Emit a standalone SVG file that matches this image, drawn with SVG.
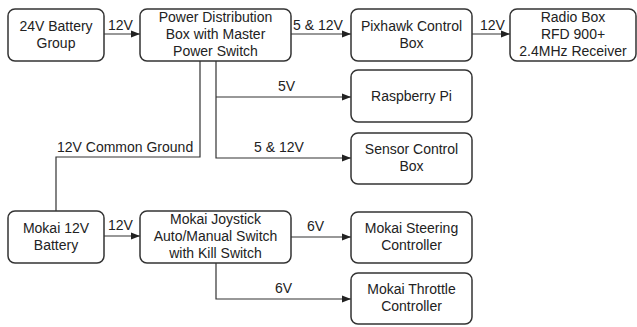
<svg xmlns="http://www.w3.org/2000/svg" width="637" height="327" viewBox="0 0 637 327">
<style>
.box{fill:#fff;stroke:#333;stroke-width:1.5}
text{font-family:"Liberation Sans",Arial,sans-serif;font-size:14px;fill:#222;text-anchor:middle}
.lbl{text-anchor:start}
.c{fill:none;stroke:#333;stroke-width:1.2}
</style>
<defs>
<marker id="ah" markerWidth="10" markerHeight="8" refX="9" refY="4" orient="auto" markerUnits="userSpaceOnUse">
<path d="M0,0.5 L9,4 L0,7.5 Z" fill="#222"/>
</marker>
</defs>
<rect width="637" height="327" fill="#fff"/>
<g id="connectors">
<path class="c" d="M104,34 H140" marker-end="url(#ah)"/>
<path class="c" d="M291,34 H351" marker-end="url(#ah)"/>
<path class="c" d="M472,34 H510" marker-end="url(#ah)"/>
<path class="c" d="M216,61 V158 H351" marker-end="url(#ah)"/>
<path class="c" d="M216,97 H351" marker-end="url(#ah)"/>
<path class="c" d="M200,61 V157 H56 V211"/>
<path class="c" d="M104,236 H140" marker-end="url(#ah)"/>
<path class="c" d="M291,237 H351" marker-end="url(#ah)"/>
<path class="c" d="M216,263 V299 H351" marker-end="url(#ah)"/>
<text class="lbl" x="108" y="30">12V</text>
<text class="lbl" x="293" y="30">5 &amp; 12V</text>
<text class="lbl" x="480" y="30">12V</text>
<text class="lbl" x="278" y="91">5V</text>
<text class="lbl" x="57" y="152">12V Common Ground</text>
<text class="lbl" x="254" y="152">5 &amp; 12V</text>
<text class="lbl" x="108" y="230">12V</text>
<text class="lbl" x="307" y="231">6V</text>
<text class="lbl" x="275" y="293">6V</text>
</g>
<g id="battery24">
<rect class="box" x="8" y="9" width="96" height="52" rx="7"/>
<text x="56" y="31">24V Battery</text><text x="56" y="48">Group</text>
</g>
<g id="powerdist">
<rect class="box" x="140" y="9" width="151" height="52" rx="7"/>
<text x="215.5" y="22">Power Distribution</text><text x="215.5" y="39">Box with Master</text><text x="215.5" y="56">Power Switch</text>
</g>
<g id="pixhawk">
<rect class="box" x="351" y="9" width="121" height="52" rx="7"/>
<text x="411.5" y="31">Pixhawk Control</text><text x="411.5" y="48">Box</text>
</g>
<g id="radio">
<rect class="box" x="510" y="9" width="126" height="52" rx="7"/>
<text x="573" y="22">Radio Box</text><text x="573" y="39">RFD 900+</text><text x="573" y="56">2.4MHz Receiver</text>
</g>
<g id="raspberry">
<rect class="box" x="351" y="70" width="121" height="52" rx="7"/>
<text x="411.5" y="101">Raspberry Pi</text>
</g>
<g id="sensor">
<rect class="box" x="351" y="133" width="121" height="51" rx="7"/>
<text x="411.5" y="154">Sensor Control</text><text x="411.5" y="171">Box</text>
</g>
<g id="mokaibattery">
<rect class="box" x="8" y="211" width="96" height="52" rx="7"/>
<text x="56" y="233">Mokai 12V</text><text x="56" y="250">Battery</text>
</g>
<g id="joystick">
<rect class="box" x="140" y="211" width="151" height="52" rx="7"/>
<text x="215.5" y="224">Mokai Joystick</text><text x="215.5" y="241">Auto/Manual Switch</text><text x="215.5" y="258">with Kill Switch</text>
</g>
<g id="steering">
<rect class="box" x="351" y="212" width="121" height="51" rx="7"/>
<text x="411.5" y="233">Mokai Steering</text><text x="411.5" y="250">Controller</text>
</g>
<g id="throttle">
<rect class="box" x="351" y="273" width="121" height="51" rx="7"/>
<text x="411.5" y="294">Mokai Throttle</text><text x="411.5" y="311">Controller</text>
</g>
</svg>
